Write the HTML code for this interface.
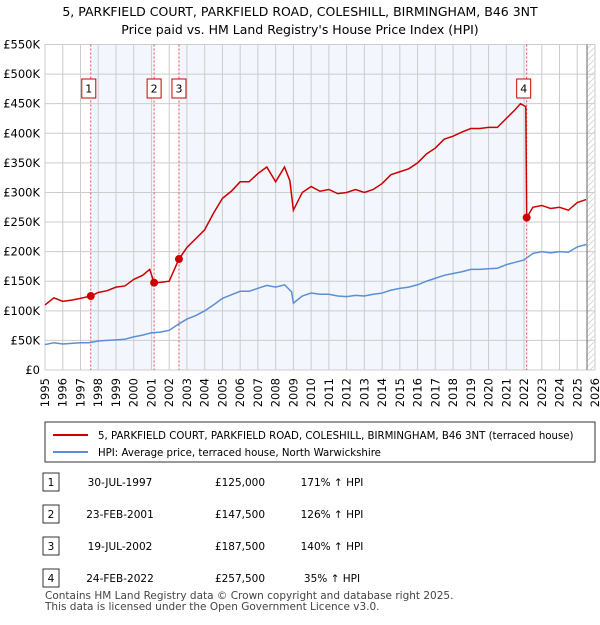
<!DOCTYPE html>
<html><head><meta charset="utf-8"><style>
body{margin:0;background:#fff;font-family:"Liberation Sans","DejaVu Sans",sans-serif}
svg text{font-family:"DejaVu Sans","Liberation Sans",sans-serif}
</style></head><body>
<svg width="600" height="620" viewBox="0 0 600 620">
<defs><pattern id="hatch" width="6" height="6" patternUnits="userSpaceOnUse"><path d="M0 6L6 0" stroke="#ccc" stroke-width="0.7"/></pattern></defs>
<text x="300" y="16" text-anchor="middle" font-size="12.5">5, PARKFIELD COURT, PARKFIELD ROAD, COLESHILL, BIRMINGHAM, B46 3NT</text>
<text x="300" y="34" text-anchor="middle" font-size="12.5">Price paid vs. HM Land Registry's House Price Index (HPI)</text>
<g id="plot"></g>
<g>
<rect x="45" y="422" width="550" height="40" fill="#fff" stroke="#333" stroke-width="1"/>
<line x1="53" y1="435" x2="88" y2="435" stroke="#cc0000" stroke-width="2"/>
<text x="98" y="439" font-size="10.2">5, PARKFIELD COURT, PARKFIELD ROAD, COLESHILL, BIRMINGHAM, B46 3NT (terraced house)</text>
<line x1="53" y1="452" x2="88" y2="452" stroke="#5b8fd4" stroke-width="2"/>
<text x="98" y="456" font-size="10.2">HPI: Average price, terraced house, North Warwickshire</text>
</g>
<g id="table" font-size="10.5"></g>
<text x="45" y="599" font-size="10.5" fill="#444">Contains HM Land Registry data © Crown copyright and database right 2025.</text>
<text x="45" y="610" font-size="10.5" fill="#444">This data is licensed under the Open Government Licence v3.0.</text>
</svg>
<script>
const hpiT=[1995,1995.5,1996,1996.5,1997,1997.5,1998,1998.5,1999,1999.5,2000,2000.5,2001,2001.5,2002,2002.5,2003,2003.5,2004,2004.5,2005,2005.5,2006,2006.5,2007,2007.5,2008,2008.5,2008.9,2009,2009.5,2010,2010.5,2011,2011.5,2012,2012.5,2013,2013.5,2014,2014.5,2015,2015.5,2016,2016.5,2017,2017.5,2018,2018.5,2019,2019.5,2020,2020.5,2021,2021.5,2022,2022.5,2023,2023.5,2024,2024.5,2025,2025.5];
const hpiV=[43,46,44,45,46,46,49,50,51,52,56,59,63,64,67,77,86,92,100,110,121,127,133,133,138,143,140,144,132,113,125,130,128,128,125,124,126,125,128,130,135,138,140,144,150,155,160,163,166,170,170,171,172,178,182,186,197,200,198,200,199,208,212];
const propT=[1995,1995.5,1996,1996.5,1997,1997.58,1998,1998.5,1999,1999.5,2000,2000.5,2000.9,2001.15,2001.5,2002,2002.55,2003,2003.5,2004,2004.5,2005,2005.5,2006,2006.5,2007,2007.5,2008,2008.5,2008.8,2009,2009.5,2010,2010.5,2011,2011.5,2012,2012.5,2013,2013.5,2014,2014.5,2015,2015.5,2016,2016.5,2017,2017.5,2018,2018.5,2019,2019.5,2020,2020.5,2021,2021.5,2021.8,2022.1,2022.15,2022.5,2023,2023.5,2024,2024.5,2025,2025.5];
const propV=[110,122,116,118,121,125,131,134,140,142,153,160,170,147.5,148,150,187.5,207,222,237,265,290,302,318,318,332,343,318,343,320,270,300,310,302,305,298,300,305,300,305,315,330,335,340,350,365,375,390,395,402,408,408,410,410,425,440,450,445,257.5,275,278,273,275,270,283,288];
const saleT=[1997.58,2001.15,2002.55,2022.15];
const saleV=[125,147.5,187.5,257.5];
const saleLabels=["1","2","3","4"];
const saleDates=["30-JUL-1997","23-FEB-2001","19-JUL-2002","24-FEB-2022"];
const salePrices=["£125,000","£147,500","£187,500","£257,500"];
const saleHpi=["171% ↑ HPI","126% ↑ HPI","140% ↑ HPI","35% ↑ HPI"];
const yTicks=[0,50,100,150,200,250,300,350,400,450,500,550];
const yTickLabels=["£0","£50K","£100K","£150K","£200K","£250K","£300K","£350K","£400K","£450K","£500K","£550K"];
const xYears=[1995,1996,1997,1998,1999,2000,2001,2002,2003,2004,2005,2006,2007,2008,2009,2010,2011,2012,2013,2014,2015,2016,2017,2018,2019,2020,2021,2022,2023,2024,2025,2026];

const L=45,R=595,T=44.5,B=370;
const x=t=>L+(t-1995)/31*(R-L);
const y=v=>B-v/550*(B-T);
const NS="http://www.w3.org/2000/svg";
const g=document.getElementById('plot');
function mk(tag,at,parent){const e=document.createElementNS(NS,tag);for(const k in at)e.setAttribute(k,at[k]);(parent||g).appendChild(e);return e;}
let e;
e=mk('rect',{x:L,y:T,width:R-L,height:B-T,fill:'#fff'});


e=mk('rect',{x:x(saleT[0]),y:T,width:x(saleT[1])-x(saleT[0]),height:B-T,fill:'#f3f6fd'});


e=mk('rect',{x:x(saleT[2]),y:T,width:x(saleT[3])-x(saleT[2]),height:B-T,fill:'#f3f6fd'});


e=mk('rect',{x:x(2025.55),y:T,width:R-x(2025.55),height:B-T,fill:'url(#hatch)'});


xYears.forEach(yr=>{e=mk('line',{x1:x(yr),x2:x(yr),y1:T,y2:B,stroke:'#ccc','stroke-width':1});


e=mk('text',{x:0,y:0,transform:`translate(${x(yr)+4},${B+8}) rotate(-90)`,'text-anchor':'end','font-size':11.5});
e.textContent=yr;

});
yTicks.forEach((v,i)=>{e=mk('line',{x1:L,x2:R,y1:y(v),y2:y(v),stroke:'#ccc','stroke-width':1});


e=mk('text',{x:40,y:y(v)+4,'text-anchor':'end','font-size':11.5});
e.textContent=yTickLabels[i];

});
e=mk('line',{x1:x(2025.55),x2:x(2025.55),y1:T,y2:B,stroke:'#666','stroke-width':1});


saleT.forEach((t,i)=>{e=mk('line',{x1:x(t),x2:x(t),y1:T,y2:B,stroke:'#e05050','stroke-width':1,'stroke-dasharray':'2,2'});

});
e=mk('polyline',{points:hpiT.map((t,i)=>x(t)+','+y(hpiV[i])).join(' '),fill:'none',stroke:'#5b8fd4','stroke-width':1.5});


e=mk('polyline',{points:propT.map((t,i)=>x(t)+','+y(propV[i])).join(' '),fill:'none',stroke:'#cc0000','stroke-width':1.5});


saleT.forEach((t,i)=>{e=mk('circle',{cx:x(t),cy:y(saleV[i]),r:4,fill:'#cc0000'});


const bx=x(t)-(i==0?2:(i==3?3:0))-7;
e=mk('rect',{x:bx,y:79,width:14,height:19,fill:'#fff',stroke:'#cc0000','stroke-width':1});


e=mk('text',{x:bx+7,y:92.5,'text-anchor':'middle','font-size':11});
e.textContent=saleLabels[i];

});
const tb=document.getElementById('table');
saleT.forEach((t,i)=>{const yy=482+i*32;
e=mk('rect',{x:43,y:yy-9,width:16,height:18,fill:'#fff',stroke:'#333','stroke-width':1},tb);


const cols=[[51,saleLabels[i],'middle'],[120,saleDates[i],'middle'],[240,salePrices[i],'middle'],[332,saleHpi[i],'middle']];
cols.forEach(c=>{e=mk('text',{x:c[0],y:yy+4,'text-anchor':c[2]},tb);e.textContent=c[1];

});});
</script>
</body></html>
